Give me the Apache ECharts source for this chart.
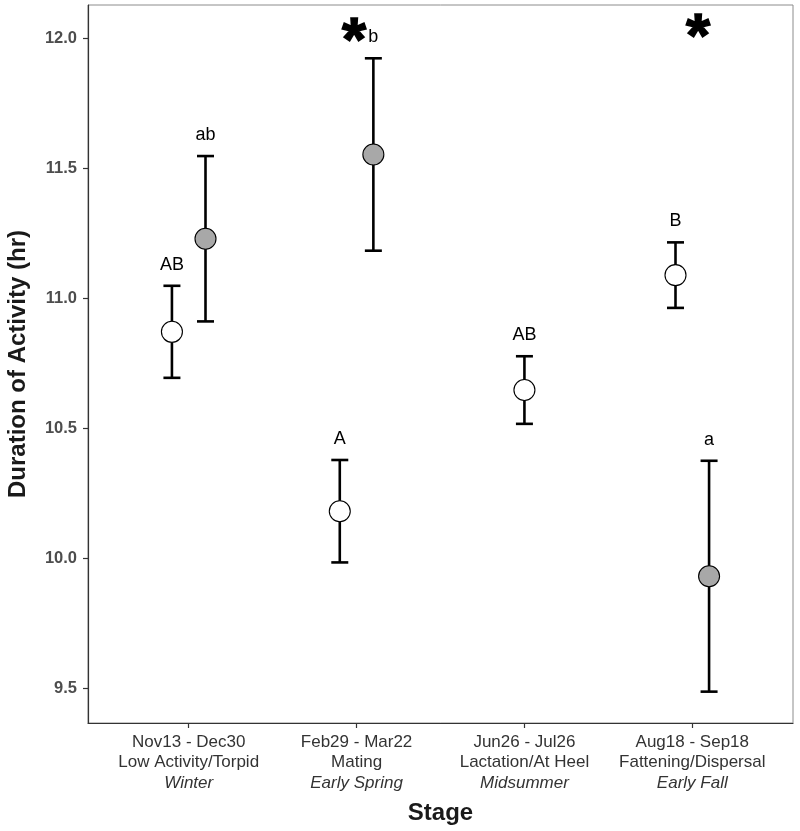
<!DOCTYPE html>
<html>
<head>
<meta charset="utf-8">
<script src="https://cdn.jsdelivr.net/npm/echarts@6/dist/echarts.min.js"></script>
<style>
html,body{margin:0;padding:0;background:#fff;}
#chart{width:800px;height:831px;}
</style>
</head>
<body>
<div id="chart"></div>
<script>
// ---- data ----
const dateRanges = ['Nov13 - Dec30', 'Feb29 - Mar22', 'Jun26 - Jul26', 'Aug18 - Sep18'];
const stageNames = ['Low Activity/Torpid', 'Mating', 'Lactation/At Heel', 'Fattening/Dispersal'];
const seasons = ['Winter', 'Early Spring', 'Midsummer', 'Early Fall'];

const whiteMean = [10.870, 10.180, 10.646, 11.088];
const whiteSE   = [0.177, 0.197, 0.130, 0.126];
const whiteLetters = ['AB', 'A', 'AB', 'B'];

const greyMean = [11.228, 11.552, null, 9.930];
const greySE   = [0.318, 0.370, null, 0.444];
const greyLetters = ['ab', 'b', null, 'a'];

const starX = [1.985, 4.035];
const starY = [12.04, 12.055];

const yTicks = [9.5, 10.0, 10.5, 11.0, 11.5, 12.0];
const xTicks = [1, 2, 3, 4];

// ---- build ----
const DODGE = 0.1;
const whiteRows = [];
whiteMean.forEach((m, i) => {
  const off = greyMean[i] == null ? 0 : -DODGE;
  whiteRows.push([i + 1 + off, m, m - whiteSE[i], m + whiteSE[i], whiteLetters[i]]);
});
const greyRows = [];
greyMean.forEach((m, i) => {
  if (m == null) return;
  greyRows.push([i + 1 + DODGE, m, m - greySE[i], m + greySE[i], greyLetters[i]]);
});
const starRows = starX.map((x, i) => [x, starY[i]]);

const FONT = '"Liberation Sans", Arial, Helvetica, sans-serif';

function errRender(params, api) {
  const x = api.value(0);
  const lo = api.coord([x, api.value(2)]);
  const hi = api.coord([x, api.value(3)]);
  const half = 8.5;
  const style = { stroke: '#000', lineWidth: 2.6 };
  return {
    type: 'group',
    children: [
      { type: 'line', shape: { x1: lo[0], y1: lo[1], x2: hi[0], y2: hi[1] }, style },
      { type: 'line', shape: { x1: lo[0] - half, y1: lo[1], x2: lo[0] + half, y2: lo[1] }, style },
      { type: 'line', shape: { x1: hi[0] - half, y1: hi[1], x2: hi[0] + half, y2: hi[1] }, style },
      { type: 'text', x: hi[0], y: hi[1] - 12,
        style: { text: api.value(4), fill: '#000', font: '18px ' + FONT, align: 'center', verticalAlign: 'bottom' } }
    ]
  };
}
function starRender(params, api) {
  const p = api.coord([api.value(0), api.value(1)]);
  return {
    type: 'text', x: p[0], y: p[1] + 15,
    style: { text: '*', fill: '#000', stroke: '#000', lineWidth: 1.5, font: 'bold 62px ' + FONT, align: 'center', verticalAlign: 'middle' }
  };
}

const chart = echarts.init(document.getElementById('chart'), null, { renderer: 'canvas' });
chart.setOption({
  animation: false,
  backgroundColor: '#fff',
  grid: { left: 88, right: 7, top: 5, bottom: 108, show: true, borderColor: '#8c8c8c', borderWidth: 1,
          containLabel: false, outerBoundsMode: 'none' },
  xAxis: {
    type: 'value', min: 0.4, max: 4.6,
    name: 'Stage', nameLocation: 'middle', nameGap: 78,
    nameTextStyle: { fontFamily: FONT, fontWeight: 'bold', fontSize: 24, color: '#1a1a1a' },
    axisLine: { show: true, onZero: false, lineStyle: { color: '#333', width: 1.2 } },
    axisTick: { show: true, customValues: xTicks, length: 5, lineStyle: { color: '#333', width: 1.2 } },
    splitLine: { show: false },
    axisLabel: {
      customValues: xTicks, margin: 9, fontFamily: FONT, color: '#333', fontSize: 17, lineHeight: 20.5,
      formatter: function (v) {
        const i = Math.round(v) - 1;
        return '{n|' + dateRanges[i] + '}\n{n|' + stageNames[i] + '}\n{i|' + seasons[i] + '}';
      },
      rich: {
        n: { fontFamily: FONT, fontSize: 17, color: '#333', lineHeight: 20.5 },
        i: { fontFamily: FONT, fontSize: 17, color: '#333', lineHeight: 20.5, fontStyle: 'italic' }
      }
    }
  },
  yAxis: {
    type: 'value', min: 9.3654, max: 12.127,
    name: 'Duration of Activity (hr)', nameLocation: 'middle', nameGap: 58,
    nameTextStyle: { fontFamily: FONT, fontWeight: 'bold', fontSize: 24, color: '#1a1a1a' },
    axisLine: { show: true, onZero: false, lineStyle: { color: '#333', width: 1.2 } },
    axisTick: { show: true, customValues: yTicks, length: 5, lineStyle: { color: '#333', width: 1.2 } },
    splitLine: { show: false },
    axisLabel: {
      customValues: yTicks, margin: 11, fontFamily: FONT, fontWeight: 'bold', fontSize: 16.5, color: '#4d4d4d',
      formatter: v => v.toFixed(1)
    }
  },
  series: [
    { type: 'custom', name: 'errWhite', renderItem: errRender, data: whiteRows, z: 2, clip: false,
      encode: { x: 0, y: [1, 2, 3] } },
    { type: 'custom', name: 'errGrey', renderItem: errRender, data: greyRows, z: 2, clip: false,
      encode: { x: 0, y: [1, 2, 3] } },
    { type: 'scatter', name: 'white', data: whiteRows.map(r => [r[0], r[1]]), symbol: 'circle', symbolSize: 21,
      itemStyle: { color: '#fff', borderColor: '#000', borderWidth: 1.1, opacity: 1 }, z: 5 },
    { type: 'scatter', name: 'grey', data: greyRows.map(r => [r[0], r[1]]), symbol: 'circle', symbolSize: 21,
      itemStyle: { color: '#a8a8a8', borderColor: '#000', borderWidth: 1.1, opacity: 1 }, z: 5 },
    { type: 'custom', name: 'stars', renderItem: starRender, data: starRows, z: 6, clip: false,
      encode: { x: 0, y: 1 } }
  ]
});
</script>
</body>
</html>
